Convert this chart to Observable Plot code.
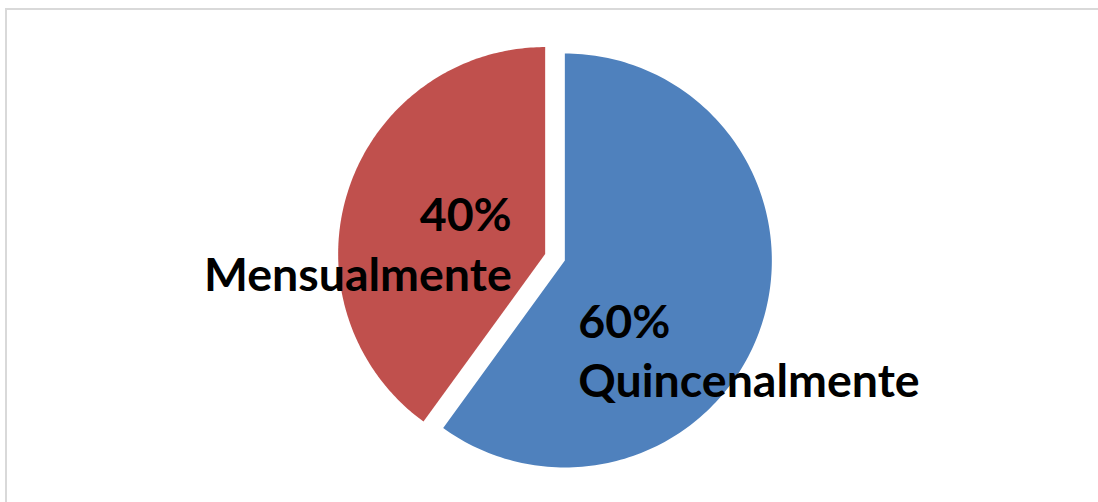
<!DOCTYPE html>
<html><head><meta charset="utf-8">
<script src="https://cdn.jsdelivr.net/npm/d3@7"></script>
<script src="https://cdn.jsdelivr.net/npm/@observablehq/plot@0.6"></script>
<style>
body{margin:0;background:#fff;}
#wrap{position:relative;width:1098px;height:502px;overflow:hidden;}
#frame{position:absolute;left:5px;top:8px;right:-10px;bottom:-10px;border-top:2px solid #d9d9d9;border-left:2px solid #d9d9d9;pointer-events:none;}
#wrap svg{position:absolute;left:0;top:0;}
</style></head><body><div id="wrap"><div id="frame"></div></div>
<script>
const categories = ["Quincenalmente", "Mensualmente"];
const values = [60, 40];
const colors = ["#4F81BD", "#C0504D"];

const total = d3.sum(values);
const explode = 0.05;
const arcs = d3.pie().sort(null).value((d, i) => values[i])(categories);

// slice outlines in unit coordinates (y up), angle clockwise from 12 o'clock
const pts = [];
const labels = [];
arcs.forEach((a, i) => {
  const mid = (a.startAngle + a.endAngle) / 2;
  const ox = explode * Math.sin(mid), oy = explode * Math.cos(mid);
  pts.push({cat: categories[i], x: ox, y: oy});
  const n = 180;
  for (let k = 0; k <= n; k++) {
    const t = a.startAngle + (a.endAngle - a.startAngle) * k / n;
    pts.push({cat: categories[i], x: ox + Math.sin(t), y: oy + Math.cos(t)});
  }
  labels.push({
    cat: categories[i],
    x: ox + 0.5 * Math.sin(mid),
    y: oy + 0.5 * Math.cos(mid),
    text: Math.round(values[i] / total * 100) + "%\n" + categories[i]
  });
});

const cx = 554.5, cy = 256.8, R = 207;
const chart = Plot.plot({
  width: 1098, height: 502,
  margin: 0,
  x: {domain: [-1, 1], range: [cx - R, cx + R], axis: null},
  y: {domain: [-1, 1], range: [cy + R, cy - R], axis: null},
  color: {domain: categories, range: colors},
  style: {background: "transparent", overflow: "visible"},
  marks: [
    Plot.line(pts, {x: "x", y: "y", z: "cat", fill: "cat", stroke: "none", curve: "linear-closed"}),
    Plot.text(labels.filter(d => d.cat === "Mensualmente"), {
      x: "x", y: "y", text: "text", textAnchor: "end", lineAnchor: "middle",
      dx: 65, dy: 20, lineHeight: 1.27,
      fontSize: 46.5, fontWeight: "bold", fontFamily: "Lato", fill: "#000"
    }),
    Plot.text(labels.filter(d => d.cat === "Quincenalmente"), {
      x: "x", y: "y", text: "text", textAnchor: "start", lineAnchor: "middle",
      dx: -85, dy: 56.5, lineHeight: 1.27,
      fontSize: 46.5, fontWeight: "bold", fontFamily: "Lato", fill: "#000"
    })
  ]
});
document.getElementById("wrap").prepend(chart);
</script>
</body></html>
